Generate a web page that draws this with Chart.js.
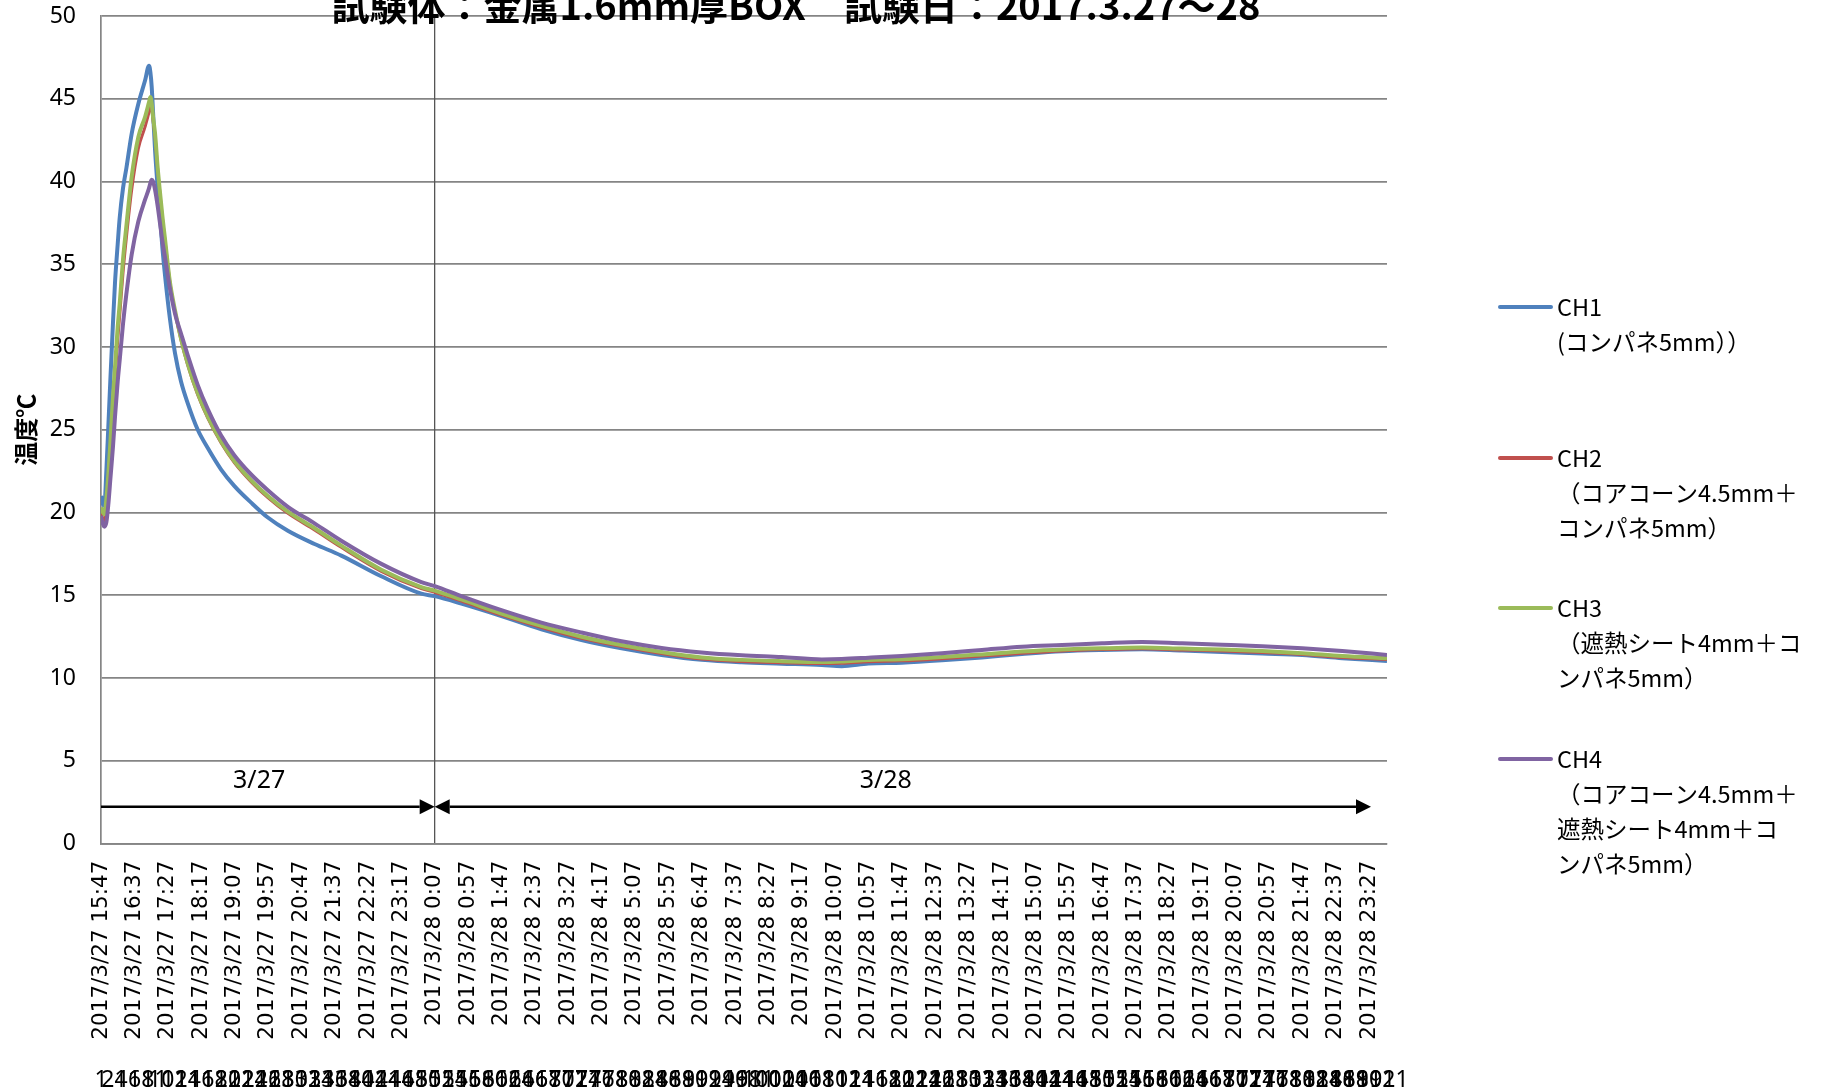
<!DOCTYPE html>
<html lang="ja">
<head>
<meta charset="utf-8">
<title>試験体：金属1.6mm厚BOX 温度推移</title>
<script src="https://cdn.jsdelivr.net/npm/chart.js@4.4.1/dist/chart.umd.min.js"></script>
<style>
  html, body { margin: 0; padding: 0; background: #ffffff; }
  #wrap { width: 1822px; height: 1091px; }
  canvas { display: block; }
</style>
</head>
<body>
<div id="wrap"><canvas id="chart" width="1822" height="1091"></canvas></div>
<script>
// ---- text ----
const chartTitle = '試験体：金属1.6mm厚BOX　試験日：2017.3.27～28';
const yAxisTitle = '温度℃';
const legendLines = [
  ['CH1', '(コンパネ5mm））'],
  ['CH2', '（コアコーン4.5mm＋', 'コンパネ5mm）'],
  ['CH3', '（遮熱シート4mm＋コ', 'ンパネ5mm）'],
  ['CH4', '（コアコーン4.5mm＋', '遮熱シート4mm＋コ', 'ンパネ5mm）']
];
const seriesColors = ['#4F81BD', '#C0504D', '#9BBB59', '#8064A2'];

// ---- time axis: minutes since 2017/3/27 15:47, one label every 50 min ----
const tickLabels = [
  '2017/3/27 15:47', '2017/3/27 16:37', '2017/3/27 17:27', '2017/3/27 18:17', '2017/3/27 19:07',
  '2017/3/27 19:57', '2017/3/27 20:47', '2017/3/27 21:37', '2017/3/27 22:27', '2017/3/27 23:17',
  '2017/3/28 0:07', '2017/3/28 0:57', '2017/3/28 1:47', '2017/3/28 2:37', '2017/3/28 3:27',
  '2017/3/28 4:17', '2017/3/28 5:07', '2017/3/28 5:57', '2017/3/28 6:47', '2017/3/28 7:37',
  '2017/3/28 8:27', '2017/3/28 9:17', '2017/3/28 10:07', '2017/3/28 10:57', '2017/3/28 11:47',
  '2017/3/28 12:37', '2017/3/28 13:27', '2017/3/28 14:17', '2017/3/28 15:07', '2017/3/28 15:57',
  '2017/3/28 16:47', '2017/3/28 17:37', '2017/3/28 18:27', '2017/3/28 19:17', '2017/3/28 20:07',
  '2017/3/28 20:57', '2017/3/28 21:47', '2017/3/28 22:37', '2017/3/28 23:27'
];
const tickStep = 50;        // minutes between date labels
const sampleStep = 20;      // minutes between sample-number labels
const lastMinute = 1927;    // end of record

// ---- measured temperatures (°C) ----
const minutes = [0, 3, 5, 8, 11, 14, 18, 21, 25, 28, 33, 38, 46, 56, 66, 72, 74, 76, 78, 81,
  85, 88, 92, 96, 103, 111, 120, 130, 145, 160, 180, 200, 225, 250, 280, 320, 360, 420, 480, 500,
  540, 600, 660, 720, 780, 840, 900, 960, 1020, 1080, 1110, 1150, 1200, 1260, 1320, 1380, 1440, 1500, 1560, 1620,
  1680, 1740, 1800, 1860, 1927];

const ch1 = [21.0, 20.5, 20.4, 22.5, 25.2, 28.0, 31.5, 33.9, 36.2, 37.8, 39.6, 40.8, 42.9, 44.7, 46.1, 47.0, 46.6, 45.7, 44.2, 41.9,
  39.6, 38.1, 36.0, 34.3, 31.8, 29.6, 27.9, 26.6, 25.0, 23.9, 22.6, 21.6, 20.6, 19.7, 18.9, 18.1, 17.4, 16.15, 15.1, 14.95,
  14.5, 13.75, 12.95, 12.3, 11.8, 11.4, 11.1, 10.95, 10.87, 10.79, 10.72, 10.88, 10.93, 11.07, 11.25, 11.45, 11.62, 11.7, 11.74, 11.66,
  11.57, 11.48, 11.39, 11.2, 11.03];

const ch2 = [20.0, 19.6, 19.5, 20.2, 21.6, 23.4, 26.2, 28.0, 30.4, 31.9, 34.5, 36.6, 39.5, 42.0, 43.3, 44.2, 44.6, 44.4, 43.7, 42.7,
  40.7, 39.4, 37.8, 36.4, 34.0, 32.1, 30.4, 28.9, 27.1, 25.7, 24.2, 23.0, 21.85, 20.9, 19.95, 18.95, 17.9, 16.45, 15.4, 15.18,
  14.65, 13.8, 13.05, 12.4, 11.9, 11.48, 11.15, 11.0, 10.93, 10.88, 10.9, 10.99, 11.04, 11.17, 11.33, 11.5, 11.64, 11.72, 11.77, 11.7,
  11.64, 11.55, 11.43, 11.25, 11.12];

const ch3 = [20.3, 20.0, 19.9, 20.8, 22.3, 24.2, 27.0, 28.8, 31.2, 32.6, 35.3, 37.3, 40.3, 42.7, 43.9, 44.8, 45.1, 44.7, 43.9, 42.9,
  40.8, 39.5, 37.9, 36.5, 34.0, 32.2, 30.5, 29.0, 27.2, 25.8, 24.3, 23.1, 21.95, 21.0, 20.05, 19.05, 18.0, 16.55, 15.5, 15.28,
  14.75, 13.9, 13.15, 12.5, 12.0, 11.58, 11.25, 11.1, 11.02, 10.97, 11.0, 11.09, 11.14, 11.27, 11.43, 11.6, 11.73, 11.8, 11.84, 11.78,
  11.72, 11.63, 11.5, 11.33, 11.2];

const ch4 = [19.8, 19.3, 19.15, 19.4, 20.5, 22.0, 24.0, 25.8, 27.9, 29.2, 31.4, 33.2, 35.6, 37.6, 38.9, 39.6, 39.9, 40.1, 40.0, 39.5,
  38.5, 37.6, 36.4, 35.4, 33.6, 32.0, 30.8, 29.5, 27.7, 26.25, 24.65, 23.45, 22.3, 21.35, 20.35, 19.35, 18.3, 16.9, 15.8, 15.56,
  14.95, 14.1, 13.35, 12.75, 12.22, 11.82, 11.55, 11.38, 11.27, 11.13, 11.15, 11.23, 11.34, 11.5, 11.7, 11.9, 12.0, 12.1, 12.18, 12.1,
  12.02, 11.93, 11.8, 11.63, 11.4];

// ---- day bands drawn as arrows under the curves ----
const dayLabels = ['3/27', '3/28'];
const dayStart = [0, 500];
const dayEnd = [500, 1903];
const dayLabelAt = [237, 1176];
const dayArrowLevel = 2.23;
const dayLabelLevel = 3.8;
const midnightMinute = 500;

const seriesValues = [ch1, ch2, ch3, ch4];

const GRID = '#858585';

const datasets = seriesValues.map((vals, i) => ({
  label: legendLines[i].join(''),
  data: minutes.map((m, k) => ({ x: m, y: vals[k] })),
  borderColor: seriesColors[i],
  backgroundColor: seriesColors[i],
  borderWidth: i === 1 ? 3 : 4,
  pointRadius: 0,
  cubicInterpolationMode: 'monotone',
  fill: false,
  order: 4 - i
}));

// white page behind the chart
const background = {
  id: 'background',
  beforeDraw(chart) {
    const ctx = chart.ctx;
    ctx.save();
    ctx.fillStyle = '#ffffff';
    ctx.fillRect(0, 0, chart.width, chart.height);
    ctx.restore();
  }
};

// day arrows and labels, placed through the chart scales
const dayBands = {
  id: 'dayBands',
  afterDatasetsDraw(chart) {
    const { ctx, scales: { x, y } } = chart;
    const head = 15, half = 7.5;
    const yy = y.getPixelForValue(dayArrowLevel);
    ctx.save();
    ctx.strokeStyle = '#000';
    ctx.fillStyle = '#000';
    ctx.lineWidth = 2.5;
    dayLabels.forEach((lab, i) => {
      const xa = x.getPixelForValue(dayStart[i]);
      const xb = x.getPixelForValue(dayEnd[i]);
      const leftHead = i > 0;
      ctx.beginPath();
      ctx.moveTo(leftHead ? xa + head : xa, yy);
      ctx.lineTo(xb - head, yy);
      ctx.stroke();
      ctx.beginPath();
      ctx.moveTo(xb, yy);
      ctx.lineTo(xb - head, yy - half);
      ctx.lineTo(xb - head, yy + half);
      ctx.closePath();
      ctx.fill();
      if (leftHead) {
        ctx.beginPath();
        ctx.moveTo(xa, yy);
        ctx.lineTo(xa + head, yy - half);
        ctx.lineTo(xa + head, yy + half);
        ctx.closePath();
        ctx.fill();
      }
      ctx.font = '25px "Noto Sans"';
      ctx.textAlign = 'center';
      ctx.textBaseline = 'middle';
      ctx.fillText(lab, x.getPixelForValue(dayLabelAt[i]), y.getPixelForValue(dayLabelLevel));
    });
    ctx.restore();
  }
};

// chart title and the series key on the right
const decorations = {
  id: 'decorations',
  afterDraw(chart) {
    const ctx = chart.ctx;
    ctx.save();
    ctx.fillStyle = '#000';
    ctx.font = 'bold 38px "Noto Sans CJK JP"';
    ctx.textAlign = 'center';
    ctx.textBaseline = 'alphabetic';
    ctx.fillText(chartTitle, 796, 20);

    const rows = [307, 458, 608, 759];
    ctx.font = '23.5px "Noto Sans CJK JP"';
    ctx.textAlign = 'left';
    ctx.textBaseline = 'middle';
    chart.data.datasets.forEach((ds, i) => {
      const y0 = rows[i];
      ctx.strokeStyle = ds.borderColor;
      ctx.lineWidth = 4;
      ctx.lineCap = 'round';
      ctx.beginPath();
      ctx.moveTo(1500, y0);
      ctx.lineTo(1551, y0);
      ctx.stroke();
      ctx.fillStyle = '#000';
      legendLines[i].forEach((line, k) => ctx.fillText(line, 1557, y0 + k * 35));
    });
    ctx.restore();
  }
};

new Chart(document.getElementById('chart'), {
  type: 'line',
  data: { datasets },
  plugins: [background, dayBands, decorations],
  options: {
    responsive: false,
    animation: false,
    events: [],
    layout: { padding: { top: 16, right: 435, left: 0, bottom: 0 } },
    plugins: {
      legend: { display: false },
      title: { display: false },
      tooltip: { enabled: false }
    },
    scales: {
      y: {
        type: 'linear',
        min: 0,
        max: 50,
        ticks: {
          stepSize: 5,
          color: '#000',
          padding: 2,
          font: { family: '"Noto Sans"', size: 23 }
        },
        grid: { color: GRID, lineWidth: 1.7, drawTicks: true, tickLength: 23, tickColor: 'rgba(0,0,0,0)' },
        border: { display: true, color: GRID, width: 1.7 },
        title: {
          display: true,
          text: yAxisTitle,
          color: '#000',
          font: { family: '"Noto Sans CJK JP"', size: 24, weight: 'bold' },
          padding: { top: 11, bottom: 0 }
        },
        afterFit(scale) { scale.width = 101; }
      },
      x: {
        type: 'linear',
        position: 'bottom',
        weight: 0,
        min: 0,
        max: lastMinute,
        ticks: {
          stepSize: tickStep,
          includeBounds: false,
          autoSkip: false,
          minRotation: 90,
          maxRotation: 90,
          padding: 17,
          color: '#000',
          font: { family: '"DejaVu Sans"', size: 21.5 },
          callback: (v) => tickLabels[Math.round(v / tickStep)] || ''
        },
        grid: {
          drawTicks: false,
          lineWidth: 1.3,
          color: (c) => (c.tick && c.tick.value === midnightMinute) ? '#555555' : 'rgba(0,0,0,0)'
        },
        border: { display: true, color: GRID, width: 1.7 },
        afterFit(scale) { scale.height = 205; }
      },
      x2: {
        type: 'linear',
        position: 'bottom',
        weight: 1,
        min: 0,
        max: lastMinute,
        ticks: {
          stepSize: sampleStep,
          includeBounds: false,
          autoSkip: false,
          minRotation: 0,
          maxRotation: 0,
          padding: 18,
          color: '#000',
          font: { family: '"Noto Sans"', size: 23 },
          callback: (v) => String(Math.round(v) + 1)
        },
        grid: { display: false, drawTicks: false },
        border: { display: false },
        afterFit(scale) { scale.height = 42.4; }
      }
    }
  }
});
</script>
</body>
</html>
